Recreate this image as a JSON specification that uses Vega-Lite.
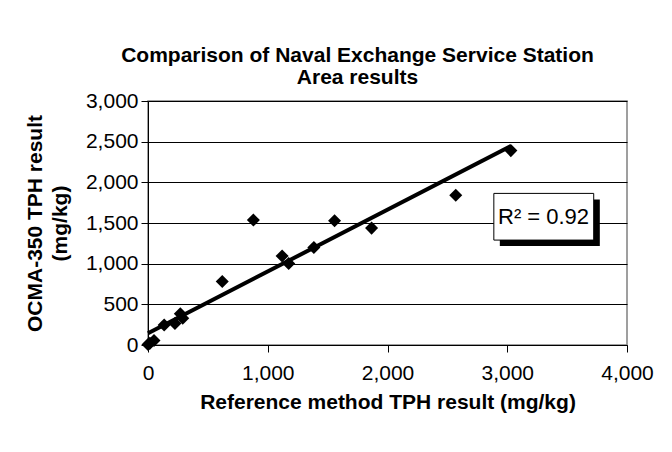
{
  "$schema": "https://vega.github.io/schema/vega-lite/v6.json",
  "autosize": {"type": "none"},
  "width": 479,
  "height": 244,
  "padding": {"left": 148, "top": 101, "right": 45, "bottom": 107},
  "background": "white",
  "config": {
    "font": "Liberation Sans",
    "view": {"stroke": "#808080", "strokeWidth": 1.5},
    "axis": {"labelColor": "black", "titleColor": "black", "domainColor": "black", "tickColor": "black", "labelFont": "Liberation Sans", "titleFont": "Liberation Sans"}
  },
  "title": {
    "text": ["Comparison of Naval Exchange Service Station", "Area results"],
    "fontSize": 21,
    "fontWeight": "bold",
    "font": "Liberation Sans",
    "color": "black",
    "anchor": "middle",
    "lineHeight": 22,
    "offset": 2,
    "dx": -30
  },
  "datasets": {
    "samples": [
      {"ref": 0, "ocma": 5},
      {"ref": 15, "ocma": 20},
      {"ref": 50, "ocma": 55},
      {"ref": 135, "ocma": 245},
      {"ref": 225, "ocma": 265},
      {"ref": 270, "ocma": 385},
      {"ref": 290, "ocma": 330},
      {"ref": 620, "ocma": 780},
      {"ref": 880, "ocma": 1536},
      {"ref": 1120, "ocma": 1095},
      {"ref": 1175, "ocma": 1003},
      {"ref": 1385, "ocma": 1200},
      {"ref": 1558, "ocma": 1527},
      {"ref": 1867, "ocma": 1437},
      {"ref": 2570, "ocma": 1840},
      {"ref": 3030, "ocma": 2390}
    ],
    "trend": [
      {"ref": 0, "ocma": 145},
      {"ref": 3030, "ocma": 2445}
    ]
  },
  "layer": [
    {
      "data": {"name": "trend"},
      "mark": {"type": "line", "color": "black", "strokeWidth": 4},
      "encoding": {
        "x": {
          "field": "ref", "type": "quantitative",
          "scale": {"domain": [0, 4000], "nice": false},
          "axis": {
            "values": [0, 1000, 2000, 3000, 4000], "format": ",d", "grid": false,
            "labelFontSize": 21, "labelFlush": false, "tickSize": 7, "labelPadding": 10,
            "title": "Reference method TPH result (mg/kg)", "titleFontSize": 21, "titleFontWeight": "bold", "titlePadding": 8
          }
        },
        "y": {
          "field": "ocma", "type": "quantitative",
          "scale": {"domain": [0, 3000], "nice": false},
          "axis": {
            "values": [0, 500, 1000, 1500, 2000, 2500, 3000], "format": ",d", "grid": true, "gridColor": "black", "gridWidth": 1,
            "labelFontSize": 21, "labelFlush": false, "tickSize": 7, "labelPadding": 3,
            "title": ["OCMA-350 TPH result", "(mg/kg)"], "titleFontSize": 21, "titleFontWeight": "bold", "titlePadding": 15, "titleLineHeight": 25
          }
        }
      }
    },
    {
      "data": {"name": "samples"},
      "mark": {"type": "point", "shape": "diamond", "filled": true, "color": "black", "opacity": 1, "size": 170},
      "encoding": {
        "x": {"field": "ref", "type": "quantitative"},
        "y": {"field": "ocma", "type": "quantitative"}
      }
    },
    {
      "data": {"values": [{}]},
      "mark": {"type": "rect", "color": "black"},
      "encoding": {
        "x": {"datum": 2938, "type": "quantitative"},
        "x2": {"datum": 3773},
        "y": {"datum": 1790, "type": "quantitative"},
        "y2": {"datum": 1216}
      }
    },
    {
      "data": {"values": [{}]},
      "mark": {"type": "rect", "fill": "white", "stroke": "black", "strokeWidth": 1},
      "encoding": {
        "x": {"datum": 2888, "type": "quantitative"},
        "x2": {"datum": 3722},
        "y": {"datum": 1864, "type": "quantitative"},
        "y2": {"datum": 1290}
      }
    },
    {
      "data": {"values": [{}]},
      "mark": {"type": "text", "text": "R² = 0.92", "fontSize": 22, "font": "Liberation Sans", "color": "black", "align": "center", "baseline": "middle"},
      "encoding": {
        "x": {"datum": 3303, "type": "quantitative"},
        "y": {"datum": 1576, "type": "quantitative"}
      }
    }
  ]
}
